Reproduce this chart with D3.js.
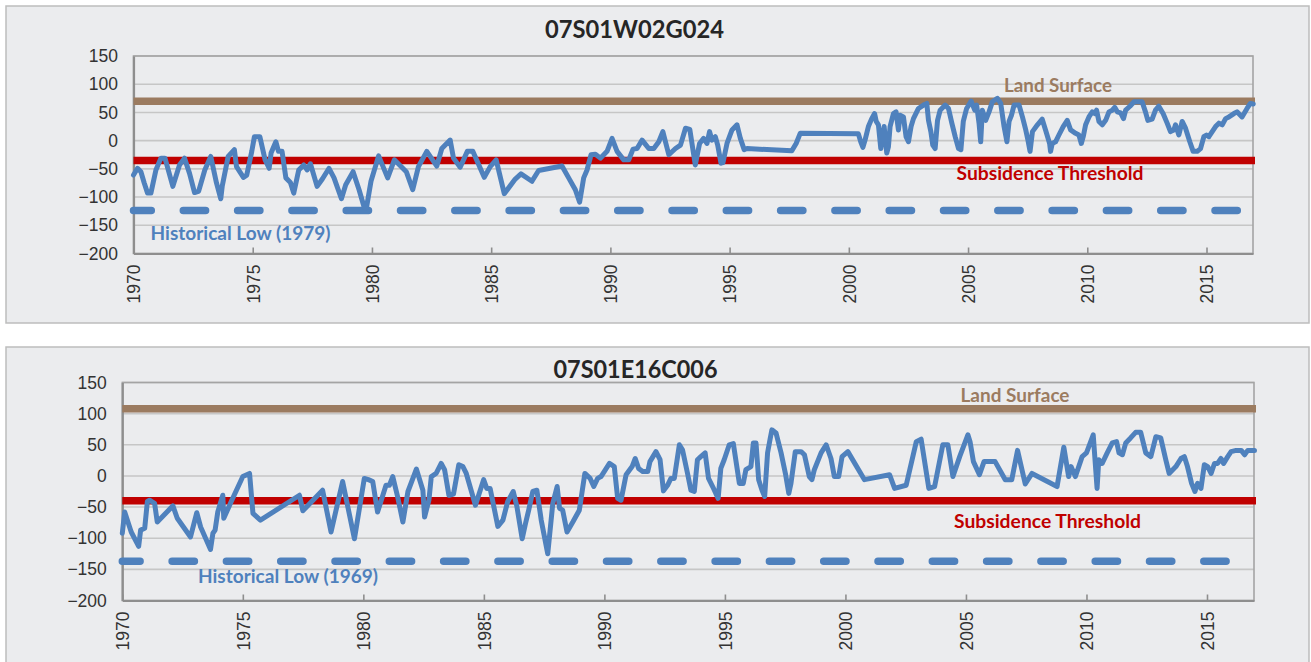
<!DOCTYPE html>
<html><head><meta charset="utf-8">
<script src="https://cdn.jsdelivr.net/npm/d3@7/dist/d3.min.js"></script>
<style>
body{margin:0;background:#ffffff;}
svg{display:block;}
</style>
</head><body>
<svg id="chart" width="1311" height="662"></svg>
<script>
// ---------------- DATA ----------------
const xTickYears = [1970, 1975, 1980, 1985, 1990, 1995, 2000, 2005, 2010, 2015];
const yTickValues = [150, 100, 50, 0, -50, -100, -150, -200];
const xDomain = [1970, 2016.95];
const yDomain = [-200, 150];

const topTitle = "07S01W02G024";
const topYears = [1970.00,1970.17,1970.31,1970.45,1970.59,1970.73,1970.94,1971.15,1971.32,1971.65,1971.93,1972.14,1972.35,1972.56,1972.73,1972.99,1973.24,1973.48,1973.66,1973.72,1973.97,1974.23,1974.32,1974.61,1974.75,1974.96,1975.07,1975.30,1975.52,1975.69,1975.77,1975.97,1976.08,1976.23,1976.39,1976.58,1976.72,1976.93,1977.14,1977.28,1977.42,1977.70,1977.92,1978.20,1978.41,1978.72,1978.90,1979.21,1979.46,1979.68,1979.77,1979.96,1980.28,1980.66,1980.94,1981.44,1981.71,1981.95,1982.30,1982.72,1982.93,1983.28,1983.42,1983.70,1984.00,1984.23,1984.71,1984.96,1985.21,1985.55,1986.01,1986.25,1986.71,1986.99,1987.97,1988.25,1988.53,1988.71,1988.88,1989.02,1989.19,1989.37,1989.58,1989.86,1990.07,1990.28,1990.56,1990.77,1990.95,1991.12,1991.33,1991.61,1991.82,1992.03,1992.20,1992.45,1992.73,1992.94,1993.15,1993.33,1993.56,1993.74,1993.91,1994.05,1994.16,1994.26,1994.40,1994.50,1994.64,1994.72,1994.89,1995.10,1995.31,1995.45,1995.61,1995.73,1997.61,1997.79,1997.96,2000.40,2000.50,2000.59,2000.68,2000.82,2000.96,2001.08,2001.15,2001.24,2001.34,2001.41,2001.48,2001.59,2001.66,2001.73,2001.87,2001.98,2002.08,2002.15,2002.29,2002.40,2002.50,2002.61,2002.71,2002.92,2003.13,2003.27,2003.34,2003.44,2003.52,2003.62,2003.72,2003.83,2004.04,2004.18,2004.32,2004.46,2004.60,2004.70,2004.80,2004.94,2005.13,2005.28,2005.36,2005.46,2005.53,2005.60,2005.74,2005.88,2006.02,2006.23,2006.37,2006.51,2006.63,2006.72,2006.82,2006.93,2007.14,2007.28,2007.42,2007.51,2007.60,2007.70,2007.91,2008.11,2008.25,2008.42,2008.46,2008.53,2008.67,2008.81,2008.99,2009.16,2009.30,2009.51,2009.65,2009.75,2009.83,2009.93,2010.07,2010.21,2010.31,2010.39,2010.49,2010.63,2010.77,2010.91,2011.05,2011.15,2011.26,2011.40,2011.52,2011.61,2011.79,2011.96,2012.16,2012.30,2012.44,2012.54,2012.72,2012.86,2013.00,2013.18,2013.35,2013.49,2013.63,2013.70,2013.84,2013.98,2014.12,2014.30,2014.44,2014.61,2014.75,2014.89,2015.00,2015.10,2015.24,2015.38,2015.52,2015.66,2015.80,2015.94,2016.15,2016.28,2016.49,2016.70,2016.84,2016.96];
const topLevels = [-61,-49,-55,-75,-93,-93,-52,-31,-31,-81,-43,-31,-58,-92,-90,-52,-28,-75,-103,-81,-28,-16,-46,-65,-61,-19,7,7,-34,-49,-22,-2,-19,-19,-66,-74,-93,-52,-43,-52,-41,-81,-68,-49,-66,-103,-78,-55,-87,-119,-119,-72,-27,-66,-34,-55,-87,-46,-19,-45,-14,1,-31,-47,-19,-19,-65,-46,-34,-94,-68,-59,-72,-53,-45,-66,-87,-109,-66,-52,-25,-24,-31,-19,4,-19,-34,-34,-15,-14,1,-14,-14,-2,16,-25,-14,-8,22,20,-43,-5,4,-5,16,1,7,-8,-40,-39,-5,19,28,4,-16,-14,-18,-5,13,12,-2,-12,1,25,39,48,34,28,-14,7,25,-22,-11,25,48,51,19,45,42,7,-2,25,39,57,63,66,36,16,-8,-14,36,54,63,57,31,7,-14,-16,34,57,70,54,63,31,-2,54,36,51,69,75,66,25,-2,34,45,63,63,42,19,1,-19,16,28,38,19,-5,-19,-5,-2,10,25,36,19,13,10,-5,7,28,42,51,48,54,34,28,36,51,54,59,51,49,39,54,61,69,69,69,51,36,38,54,61,48,31,16,19,28,10,34,22,-2,-19,-19,-14,7,10,7,16,25,31,28,39,42,48,51,42,57,66,65];
const topReferenceLevels = [70, -35, -124]; // land surface, subsidence threshold, historical low
const topLowLabel = "Historical Low (1979)";

const bottomTitle = "07S01E16C006";
const bottomYears = [1970.00,1970.10,1970.37,1970.68,1970.76,1970.93,1971.04,1971.13,1971.34,1971.45,1972.10,1972.28,1972.83,1973.09,1973.25,1973.66,1973.76,1973.85,1973.96,1974.17,1974.21,1974.52,1975.00,1975.28,1975.42,1975.73,1977.35,1977.49,1978.31,1978.66,1979.14,1979.63,1980.04,1980.21,1980.39,1980.59,1980.94,1981.08,1981.22,1981.42,1981.64,1981.85,1982.20,1982.47,1982.54,1982.72,1982.82,1983.02,1983.23,1983.37,1983.55,1983.74,1983.96,1984.13,1984.27,1984.65,1984.99,1985.12,1985.26,1985.58,1985.79,1985.99,1986.22,1986.37,1986.59,1986.73,1986.86,1987.03,1987.20,1987.38,1987.65,1987.86,1988.04,1988.14,1988.27,1988.45,1988.69,1988.96,1989.19,1989.41,1989.56,1989.72,1989.86,1990.21,1990.41,1990.55,1990.69,1990.90,1991.15,1991.28,1991.42,1991.59,1991.80,1991.89,1992.14,1992.31,1992.45,1992.62,1992.76,1992.90,1993.11,1993.24,1993.45,1993.59,1993.73,1993.86,1994.00,1994.18,1994.32,1994.49,1994.72,1994.83,1994.97,1995.18,1995.35,1995.60,1995.76,1995.87,1996.08,1996.18,1996.29,1996.40,1996.54,1996.65,1996.77,1996.87,1996.95,1997.12,1997.33,1997.51,1997.65,1997.74,1997.92,1998.16,1998.30,1998.50,1998.61,1998.71,1998.99,1999.20,1999.40,1999.54,1999.72,1999.86,2000.10,2000.79,2001.83,2002.04,2002.52,2002.94,2003.14,2003.46,2003.70,2004.04,2004.25,2004.46,2004.74,2005.08,2005.17,2005.31,2005.56,2005.75,2006.21,2006.63,2006.90,2007.14,2007.46,2007.74,2008.78,2009.06,2009.26,2009.36,2009.54,2009.82,2010.00,2010.28,2010.44,2010.51,2010.65,2010.86,2011.07,2011.25,2011.35,2011.49,2011.63,2011.83,2012.04,2012.25,2012.46,2012.67,2012.88,2013.08,2013.29,2013.43,2013.71,2013.92,2014.06,2014.19,2014.36,2014.50,2014.61,2014.75,2014.89,2015.03,2015.17,2015.31,2015.44,2015.58,2015.69,2015.86,2016.00,2016.21,2016.42,2016.56,2016.69,2016.97];
const bottomLevels = [-92,-58,-90,-113,-87,-84,-41,-39,-44,-74,-48,-68,-98,-59,-82,-118,-92,-87,-58,-31,-68,-41,-1,4,-60,-71,-31,-56,-23,-90,-9,-101,-4,-6,-9,-58,-15,-15,-1,-33,-74,-25,11,-23,-66,-39,-1,4,20,10,-31,-29,18,15,4,-47,-6,-20,-20,-81,-71,-41,-25,-49,-101,-76,-55,-25,-23,-71,-125,-44,-17,-52,-55,-90,-74,-55,4,-4,-17,-4,-1,20,15,-36,-39,2,15,28,12,7,7,23,39,26,-24,-15,-4,-4,50,42,4,-23,-25,26,31,37,-4,-17,-36,12,26,50,52,-12,-12,10,15,53,53,-6,-23,-33,37,58,74,69,37,4,-28,-12,39,39,34,-1,-6,10,37,50,28,-1,-1,31,39,-6,2,-20,-15,55,59,-20,-17,50,50,-1,31,66,55,23,2,23,23,-6,-6,41,-13,4,-17,46,-1,15,-1,31,37,66,-20,26,20,37,53,55,37,34,53,61,70,70,37,31,63,61,26,4,15,28,31,15,-12,-25,-12,-20,18,15,4,20,20,28,20,31,39,41,41,34,41,41];
const bottomReferenceLevels = [108, -40, -137];
const bottomLowLabel = "Historical Low (1969)";

const referenceNames = ["Land Surface", "Subsidence Threshold"];

// ---------------- LAYOUT / STYLE ----------------
const COLORS = {
  panelBg: "#ebecee", panelStroke: "#bdbdbd", grid: "#c6c6c6", axis: "#8e8e8e",
  series: "#4f81bd", land: "#9b7b60", subs: "#c00000", low: "#4f81bd",
  tick: "#333333", title: "#262626"
};

const panels = [
  {
    title: topTitle, years: topYears, levels: topLevels, refs: topReferenceLevels, lowLabel: topLowLabel,
    box: {x: 6, y: 6, w: 1303, h: 317},
    plot: {x0: 133.5, x1: 1253, y0: 56, y1: 253.5},
    titlePos: {x: 634.5, y: 38.3, len: 179},
    landPos: {x: 1058, y: 92, len: 108},
    subsPos: {x: 1050, y: 180, len: 187},
    lowPos: {x: 240.6, y: 240, len: 180},
    dashOffset: 4.5
  },
  {
    title: bottomTitle, years: bottomYears, levels: bottomLevels, refs: bottomReferenceLevels, lowLabel: bottomLowLabel,
    box: {x: 6, y: 347, w: 1303, h: 330},
    plot: {x0: 122.3, x1: 1254, y0: 382.5, y1: 600.5},
    titlePos: {x: 635.5, y: 377.5, len: 164},
    landPos: {x: 1015, y: 401.5, len: 109},
    subsPos: {x: 1047.5, y: 528, len: 187},
    lowPos: {x: 288, y: 583.3, len: 180},
    dashOffset: 4.5
  }
];

const svg = d3.select("#chart");
const labelFont = "Lato, 'Open Sans', sans-serif";
const tickFont = "'Liberation Sans', Arial, sans-serif";

panels.forEach(p => {
  const g = svg.append("g");
  const P = p.plot;
  const x = d3.scaleLinear().domain(xDomain).range([P.x0, P.x1]);
  const y = d3.scaleLinear().domain(yDomain).range([P.y1, P.y0]);

  // panel background
  g.append("rect")
    .attr("x", p.box.x).attr("y", p.box.y).attr("width", p.box.w).attr("height", p.box.h)
    .attr("fill", COLORS.panelBg).attr("stroke", COLORS.panelStroke).attr("stroke-width", 1.5);

  // title
  g.append("text")
    .attr("x", p.titlePos.x).attr("y", p.titlePos.y)
    .attr("text-anchor", "middle")
    .attr("font-family", labelFont).attr("font-weight", 700).attr("font-size", 24)
    .attr("textLength", p.titlePos.len).attr("lengthAdjust", "spacingAndGlyphs")
    .attr("fill", COLORS.title)
    .text(p.title);

  // horizontal gridlines
  g.append("g").selectAll("line").data(yTickValues).join("line")
    .attr("x1", P.x0).attr("x2", P.x1)
    .attr("y1", d => y(d)).attr("y2", d => y(d))
    .attr("stroke", COLORS.grid).attr("stroke-width", 1.6);

  // plot border
  g.append("rect")
    .attr("x", P.x0).attr("y", P.y0).attr("width", P.x1 - P.x0).attr("height", P.y1 - P.y0)
    .attr("fill", "none").attr("stroke", "#a4a4a4").attr("stroke-width", 1.6);

  // y axis
  const yAxis = d3.axisLeft(y).tickValues(yTickValues).tickSize(0).tickPadding(15.5).tickFormat(d3.format("d"));
  const ya = g.append("g").attr("transform", `translate(${P.x0},0)`).call(yAxis);
  ya.select(".domain").attr("stroke", COLORS.axis).attr("stroke-width", 2.2);
  ya.selectAll("text").attr("font-family", tickFont).attr("font-size", 17.5).attr("fill", COLORS.tick);

  // x axis
  const xAxis = d3.axisBottom(x).tickValues(xTickYears).tickSizeInner(-6).tickSizeOuter(0).tickFormat(d3.format("d"));
  const xa = g.append("g").attr("transform", `translate(0,${P.y1})`).call(xAxis);
  xa.select(".domain").attr("stroke", COLORS.axis).attr("stroke-width", 2.2);
  xa.selectAll(".tick line").attr("stroke", COLORS.axis).attr("stroke-width", 1.6);
  xa.selectAll("text")
    .attr("transform", "rotate(-90)")
    .attr("x", -11).attr("y", 0).attr("dy", "0.36em")
    .style("text-anchor", "end")
    .attr("font-family", tickFont).attr("font-size", 17.5).attr("fill", COLORS.tick);

  // reference lines
  const [land, subs, low] = p.refs;
  g.append("line").attr("x1", P.x0).attr("x2", P.x1 + 2).attr("y1", y(land)).attr("y2", y(land))
    .attr("stroke", COLORS.land).attr("stroke-width", 7.5);
  g.append("line").attr("x1", P.x0).attr("x2", P.x1 + 2).attr("y1", y(subs)).attr("y2", y(subs))
    .attr("stroke", COLORS.subs).attr("stroke-width", 7.5);
  g.append("line").attr("x1", P.x0).attr("x2", P.x1 + 2).attr("y1", y(low)).attr("y2", y(low))
    .attr("stroke", COLORS.low).attr("stroke-width", 7.5)
    .attr("stroke-linecap", "round")
    .attr("stroke-dasharray", "22.3 32")
    .attr("stroke-dashoffset", p.dashOffset);

  // reference labels
  const lbl = (pos, txt, color) => g.append("text")
    .attr("x", pos.x).attr("y", pos.y).attr("text-anchor", "middle")
    .attr("font-family", labelFont).attr("font-weight", 700).attr("font-size", 19.5)
    .attr("textLength", pos.len).attr("lengthAdjust", "spacingAndGlyphs")
    .attr("fill", color).text(txt);
  lbl(p.landPos, referenceNames[0], COLORS.land);
  lbl(p.subsPos, referenceNames[1], COLORS.subs);
  lbl(p.lowPos, p.lowLabel, COLORS.low);

  // series
  const pts = p.years.map((yr, i) => [yr, p.levels[i]]);
  const line = d3.line().x(d => x(d[0])).y(d => y(d[1]));
  g.append("path").datum(pts)
    .attr("d", line)
    .attr("fill", "none")
    .attr("stroke", COLORS.series).attr("stroke-width", 5)
    .attr("stroke-linejoin", "round").attr("stroke-linecap", "round");
});
</script>
</body></html>
